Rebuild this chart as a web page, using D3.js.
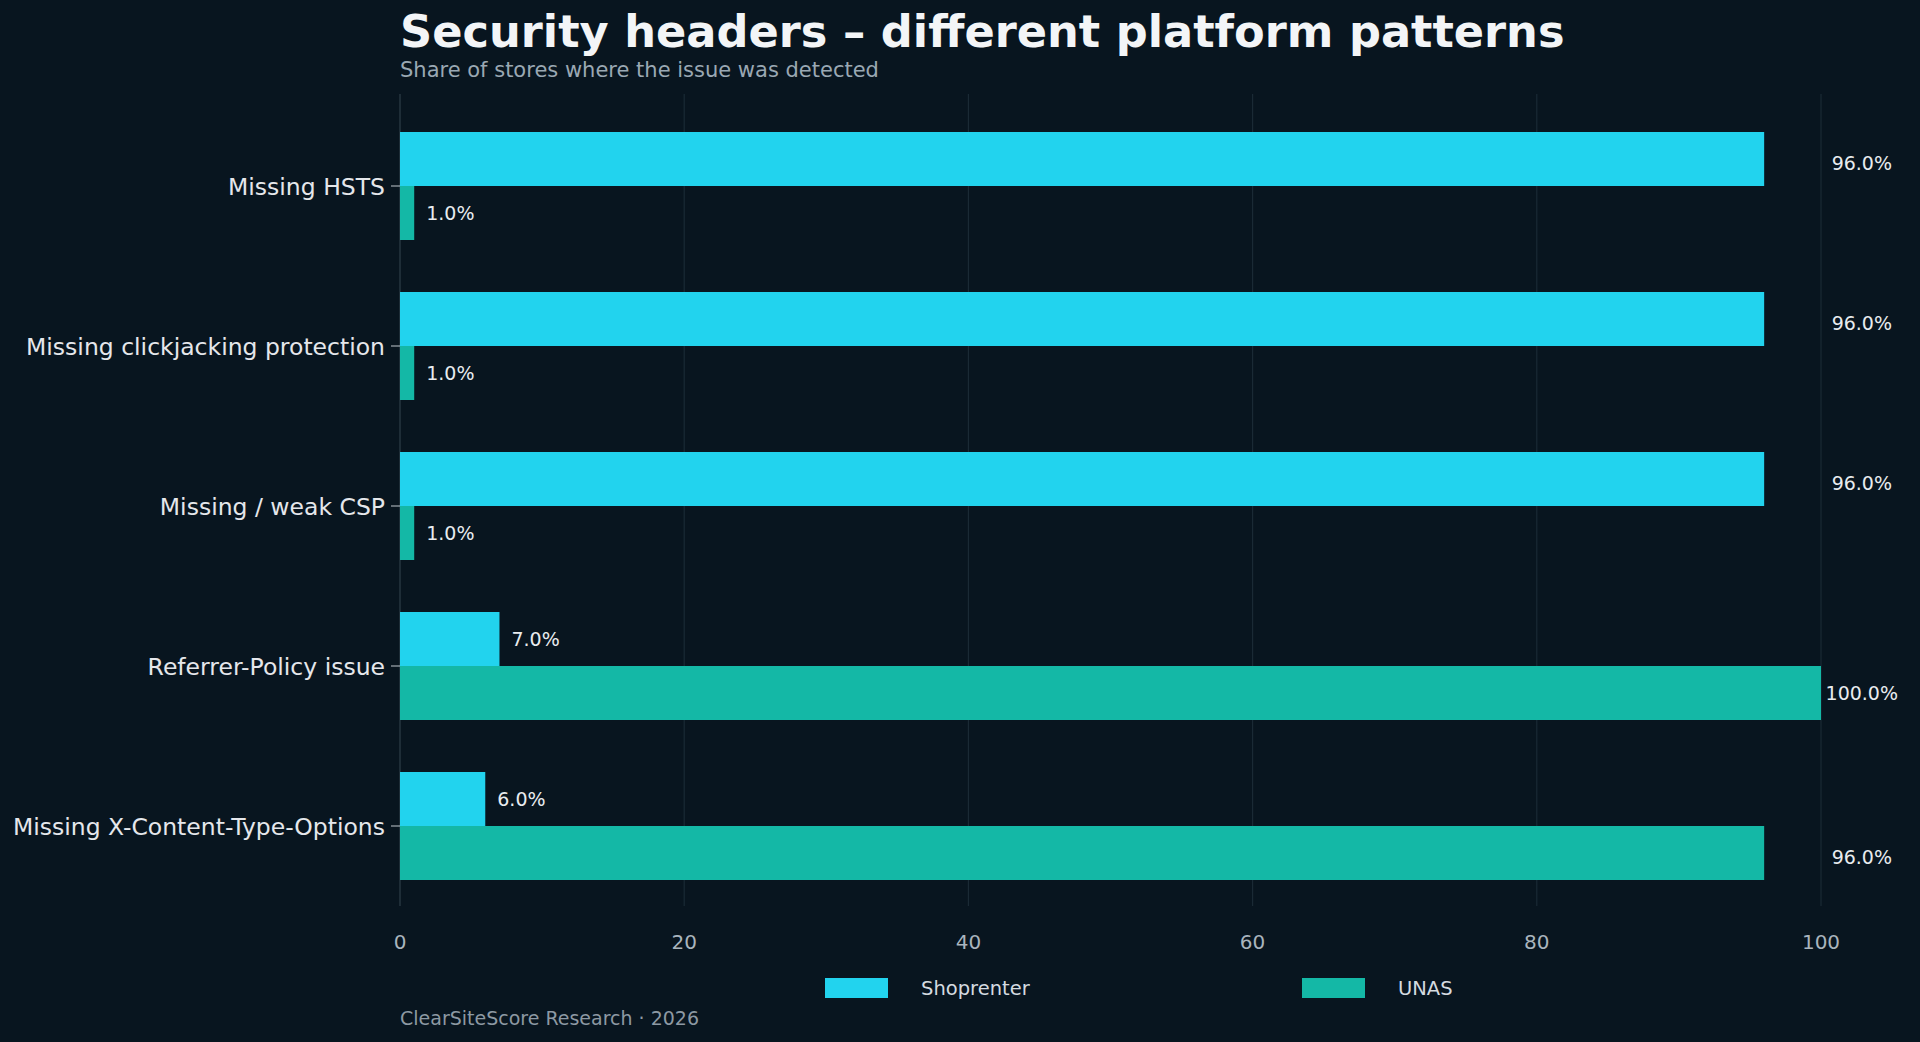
<!DOCTYPE html><html><head><meta charset="utf-8">
<script src="https://cdn.jsdelivr.net/npm/d3@7"></script>
<style>body{margin:0;background:#08151f}svg{display:block;font-family:"DejaVu Sans",sans-serif}</style></head><body>
<svg id="c" width="1920" height="1042"></svg>
<script>
const categories=["Missing HSTS","Missing clickjacking protection","Missing / weak CSP","Referrer-Policy issue","Missing X-Content-Type-Options"];
const shoprenter=[96,96,96,7,6];
const unas=[1,1,1,100,96];
const xTicks=[0,20,40,60,80,100];
const series=[{name:"Shoprenter",values:shoprenter,color:"#22d3ee"},{name:"UNAS",values:unas,color:"#14b8a6"}];
const svg=d3.select("#c");
svg.append("rect").attr("width",1920).attr("height",1042).attr("fill","#08151f");
const x=d3.scaleLinear().domain([0,100]).range([400,1821]);
const y=d3.scaleBand().domain(categories).range([106,906]);
const bh=54;
svg.append("g").selectAll("line").data(xTicks).join("line").attr("x1",d=>x(d)).attr("x2",d=>x(d)).attr("y1",94).attr("y2",906).attr("stroke","#1a2a35").attr("stroke-width",1.2);
svg.append("line").attr("x1",400).attr("x2",400).attr("y1",94).attr("y2",906).attr("stroke","#2a3a45");
series.forEach((s,si)=>{
  const g=svg.append("g");
  g.selectAll("rect").data(s.values).join("rect").attr("x",x(0)).attr("y",(d,i)=>y(categories[i])+y.bandwidth()/2-bh+si*bh).attr("width",d=>x(d)-x(0)).attr("height",bh).attr("fill",s.color);
  g.selectAll("text").data(s.values).join("text")
   .attr("x",d=>d>=50?(d>=100?1898:1892):x(d)+12).attr("text-anchor",d=>d>=50?"end":"start")
   .attr("y",(d,i)=>y(categories[i])+y.bandwidth()/2-bh/2+si*bh+(d>=50&&d<100?4:0)).attr("dy","0.35em")
   .attr("fill","#e8ecef").attr("font-size",19).text(d=>d.toFixed(1)+"%");
});
svg.append("g").selectAll("text").data(categories).join("text").attr("x",385).attr("y",d=>y(d)+y.bandwidth()/2+1).attr("dy","0.35em").attr("text-anchor","end").attr("fill","#e5e7eb").attr("font-size",23.5).text(d=>d);
svg.append("g").selectAll("line").data(categories).join("line").attr("x1",391).attr("x2",400).attr("y1",d=>y(d)+y.bandwidth()/2).attr("y2",d=>y(d)+y.bandwidth()/2).attr("stroke","#c0c8cf");
svg.append("g").selectAll("text").data(xTicks).join("text").attr("x",d=>x(d)).attr("y",942).attr("dy","0.35em").attr("text-anchor","middle").attr("fill","#a9b4bd").attr("font-size",20).text(d=>d);
svg.append("text").attr("x",400).attr("y",47).attr("fill","#f3f5f7").attr("font-size",44.7).attr("font-weight","bold").text("Security headers – different platform patterns");
svg.append("text").attr("x",400).attr("y",77).attr("fill","#9aa8b3").attr("font-size",21).text("Share of stores where the issue was detected");
const lx=[825,1302];
series.forEach((s,i)=>{
  svg.append("rect").attr("x",lx[i]).attr("y",978).attr("width",63).attr("height",20).attr("fill",s.color);
  svg.append("text").attr("x",lx[i]+96).attr("y",988).attr("dy","0.35em").attr("fill","#d5dbe0").attr("font-size",19.5).text(s.name);
});
svg.append("text").attr("x",400).attr("y",1018).attr("dy","0.35em").attr("fill","#8d99a3").attr("font-size",19).text("ClearSiteScore Research · 2026");
</script></body></html>
